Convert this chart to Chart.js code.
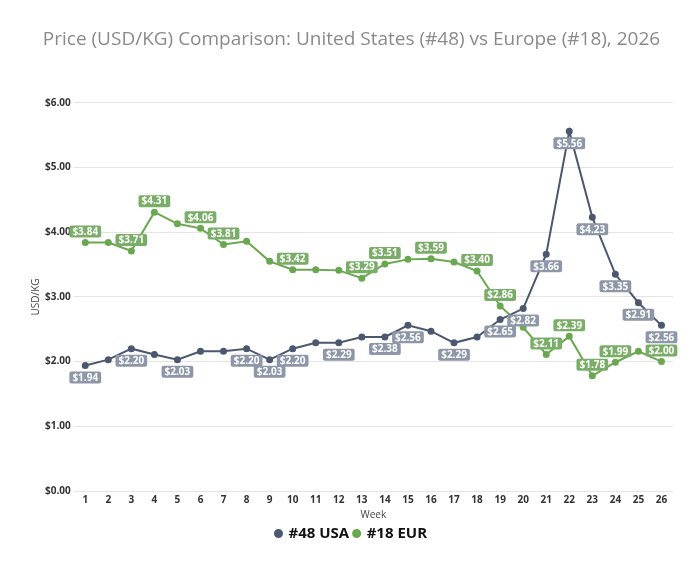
<!DOCTYPE html>
<html>
<head>
<meta charset="utf-8">
<script src="https://cdn.jsdelivr.net/npm/chart.js@4.4.1/dist/chart.umd.min.js"></script>
<style>
  html, body { margin: 0; padding: 0; background: #fff; }
  #wrap { width: 700px; height: 588px; }
</style>
</head>
<body>
<div id="wrap"><canvas id="priceChart"></canvas></div>
<script>
const weeks = ['1','2','3','4','5','6','7','8','9','10','11','12','13','14','15','16','17','18','19','20','21','22','23','24','25','26'];

const usaPrices = [1.94, 2.03, 2.20, 2.11, 2.03, 2.16, 2.16, 2.20, 2.03, 2.20, 2.29, 2.29, 2.38,
                   2.38, 2.56, 2.47, 2.29, 2.38, 2.65, 2.82, 3.66, 5.56, 4.23, 3.35, 2.91, 2.56];
const eurPrices = [3.84, 3.84, 3.71, 4.31, 4.13, 4.06, 3.81, 3.86, 3.55, 3.42, 3.42, 3.41, 3.29,
                   3.51, 3.58, 3.59, 3.54, 3.40, 2.86, 2.53, 2.11, 2.39, 1.78, 1.99, 2.16, 2.00];

// weeks whose value label stays visible (the rest collide and are hidden)
const usaLabelWeeks = [1, 3, 5, 8, 9, 10, 12, 14, 15, 17, 19, 20, 21, 22, 23, 24, 25, 26];
const eurLabelWeeks = [1, 3, 4, 6, 7, 10, 13, 14, 16, 18, 19, 21, 22, 23, 24, 26];

const yTicks = [0, 1, 2, 3, 4, 5, 6];

const USA_COLOR = '#4b586f';
const EUR_COLOR = '#6aa84f';

const money = v => '$' + v.toFixed(2);

// small stand-in for chartjs-plugin-datalabels
const valueLabels = {
    id: 'valueLabels',
    afterDatasetsDraw(chart) {
        const ctx = chart.ctx;
        ctx.save();
        ctx.font = 'bold 10px "Open Sans", sans-serif';
        ctx.textAlign = 'center';
        ctx.textBaseline = 'middle';
        chart.data.datasets.forEach((ds, di) => {
            const meta = chart.getDatasetMeta(di);
            ds.labelWeeks.forEach(w => {
                const pt = meta.data[w - 1];
                const text = money(ds.data[w - 1]);
                const tw = ctx.measureText(text).width;
                const bw = tw + 6, bh = 12;
                const cx = pt.x, cy = pt.y + ds.labelOffset;
                ctx.fillStyle = ds.labelBg;
                ctx.beginPath();
                ctx.roundRect(cx - bw / 2, cy - bh / 2, bw, bh, 2);
                ctx.fill();
                ctx.fillStyle = '#ffffff';
                ctx.fillText(text, cx, cy + 0.5);
            });
        });
        ctx.restore();
    }
};

const ctx = document.getElementById('priceChart').getContext('2d');

new Chart(ctx, {
    type: 'line',
    data: {
        labels: weeks,
        datasets: [
            {
                label: '#48 USA',
                data: usaPrices,
                borderColor: USA_COLOR,
                backgroundColor: USA_COLOR,
                borderWidth: 2,
                pointRadius: 2.5,
                pointHoverRadius: 3,
                tension: 0,
                labelWeeks: usaLabelWeeks,
                labelOffset: 12,
                labelBg: '#8d97a8'
            },
            {
                label: '#18 EUR',
                data: eurPrices,
                borderColor: EUR_COLOR,
                backgroundColor: EUR_COLOR,
                borderWidth: 2,
                pointRadius: 2.5,
                pointHoverRadius: 3,
                tension: 0,
                labelWeeks: eurLabelWeeks,
                labelOffset: -11,
                labelBg: '#7aae68'
            }
        ]
    },
    options: {
        responsive: true,
        maintainAspectRatio: false,
        animation: false,
        layout: {
            padding: { left: 30, right: 27, top: 0, bottom: 37 }
        },
        plugins: {
            title: {
                display: true,
                text: 'Price (USD/KG) Comparison: United States (#48) vs Europe (#18), 2026',
                color: '#8a8a8a',
                font: { family: '"Open Sans", sans-serif', size: 19, weight: 'normal' },
                padding: { top: 28, bottom: 52 }
            },
            legend: {
                position: 'bottom',
                labels: {
                    usePointStyle: true,
                    pointStyle: 'circle',
                    boxWidth: 5,
                    boxHeight: 5,
                    padding: 5,
                    color: '#111',
                    font: { family: '"Open Sans", sans-serif', size: 15, weight: 'bold' }
                }
            },
            tooltip: { enabled: false }
        },
        scales: {
            x: {
                offset: true,
                grid: { display: false, drawTicks: false },
                border: { display: false },
                ticks: {
                    color: '#333',
                    padding: 3,
                    font: { family: '"Open Sans", sans-serif', size: 10, weight: 'bold' }
                },
                title: {
                    display: true,
                    text: 'Week',
                    color: '#444',
                    padding: { top: 0, bottom: 0 },
                    font: { family: '"Open Sans", sans-serif', size: 10 }
                }
            },
            y: {
                min: 0,
                max: 6,
                afterBuildTicks: axis => { axis.ticks = yTicks.map(v => ({ value: v })); },
                grid: { color: '#e4e4e4', drawTicks: false },
                border: { display: false },
                ticks: {
                    color: '#333',
                    padding: 3,
                    font: { family: '"Open Sans", sans-serif', size: 10, weight: 'bold' },
                    callback: v => money(v)
                },
                title: {
                    display: true,
                    text: 'USD/KG',
                    color: '#444',
                    padding: { top: 0, bottom: 0 },
                    font: { family: '"Open Sans", sans-serif', size: 10 }
                }
            }
        }
    },
    plugins: [valueLabels]
});
</script>
</body>
</html>
